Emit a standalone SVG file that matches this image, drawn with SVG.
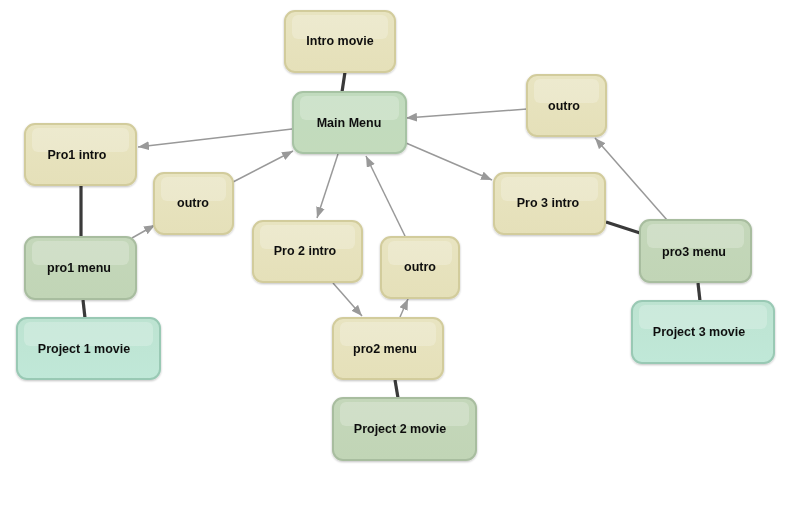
<svg xmlns="http://www.w3.org/2000/svg" width="796" height="512" viewBox="0 0 796 512">
  <defs>
    <linearGradient id="gY" x1="0" y1="0" x2="0" y2="1">
      <stop offset="0" stop-color="#e8e4c1"/>
      <stop offset="1" stop-color="#e5e0b9"/>
    </linearGradient>
    <linearGradient id="gG" x1="0" y1="0" x2="0" y2="1">
      <stop offset="0" stop-color="#c4d7ba"/>
      <stop offset="1" stop-color="#c1d5b6"/>
    </linearGradient>
    <linearGradient id="gM" x1="0" y1="0" x2="0" y2="1">
      <stop offset="0" stop-color="#c1dbbe"/>
      <stop offset="1" stop-color="#c3dbbc"/>
    </linearGradient>
    <linearGradient id="gT" x1="0" y1="0" x2="0" y2="1">
      <stop offset="0" stop-color="#bde3d1"/>
      <stop offset="1" stop-color="#c0e8d8"/>
    </linearGradient>
    <filter id="sh" x="-10%" y="-10%" width="120%" height="130%">
      <feGaussianBlur in="SourceAlpha" stdDeviation="1.2"/>
      <feOffset dx="0" dy="1" result="b"/>
      <feComponentTransfer><feFuncA type="linear" slope="0.25"/></feComponentTransfer>
      <feMerge><feMergeNode/><feMergeNode in="SourceGraphic"/></feMerge>
    </filter>
    <marker id="ah" viewBox="0 0 10 8" refX="10" refY="4" markerWidth="11" markerHeight="9" markerUnits="userSpaceOnUse" orient="auto">
      <path d="M0,0 L10,4 L0,8 Z" fill="#999999"/>
    </marker>
  </defs>
  <style>
    .y { fill: url(#gY); stroke: #d2cc9c; stroke-width: 2; }
    .g { fill: url(#gG); stroke: #a8bd9f; stroke-width: 2; }
    .m { fill: url(#gM); stroke: #a7c3a4; stroke-width: 2; }
    .t { fill: url(#gT); stroke: #99c9b4; stroke-width: 2; }
    .hl { fill: #ffffff; fill-opacity: 0.22; }
    .lbl { font-family: "Liberation Sans", Arial, sans-serif; font-weight: bold; font-size: 12.5px; fill: #111111; text-anchor: middle; }
    .arr { stroke: #999999; stroke-width: 1.5; fill: none; marker-end: url(#ah); }
    .thk { stroke: #3a3a3a; stroke-width: 3.2; fill: none; }
  </style>
  <rect width="796" height="512" fill="#ffffff"/>

  <g id="connectors">
    <line class="thk" x1="345" y1="72" x2="342" y2="92"/>
    <line class="thk" x1="81" y1="185" x2="81" y2="237"/>
    <line class="thk" x1="83" y1="300" x2="85" y2="318"/>
    <line class="thk" x1="395" y1="380" x2="398" y2="398"/>
    <line class="thk" x1="606" y1="222" x2="640" y2="233"/>
    <line class="thk" x1="698" y1="283" x2="700" y2="301"/>
    <line class="arr" x1="292" y1="129" x2="138" y2="147"/>
    <line class="arr" x1="132" y1="238" x2="155" y2="225"/>
    <line class="arr" x1="233" y1="182" x2="293" y2="151"/>
    <line class="arr" x1="338" y1="154" x2="317" y2="218"/>
    <line class="arr" x1="405" y1="236" x2="366" y2="156"/>
    <line class="arr" x1="406" y1="143" x2="492" y2="180"/>
    <line class="arr" x1="527" y1="109" x2="406" y2="118"/>
    <line class="arr" x1="333" y1="283" x2="362" y2="316"/>
    <line class="arr" x1="400" y1="317" x2="408" y2="299"/>
    <line class="arr" x1="667" y1="220" x2="595" y2="138"/>
  </g>

  <g id="intro-movie" filter="url(#sh)">
    <rect class="y" x="285" y="11" width="110" height="61" rx="10"/>
    <rect class="hl" x="292" y="15" width="96" height="24" rx="6"/>
    <text class="lbl" x="340" y="45">Intro movie</text>
  </g>
  <g id="main-menu" filter="url(#sh)">
    <rect class="m" x="293" y="92" width="113" height="61" rx="10"/>
    <rect class="hl" x="300" y="96" width="99" height="24" rx="6"/>
    <text class="lbl" x="349" y="127">Main Menu</text>
  </g>
  <g id="pro1-intro" filter="url(#sh)">
    <rect class="y" x="25" y="124" width="111" height="61" rx="10"/>
    <rect class="hl" x="32" y="128" width="97" height="24" rx="6"/>
    <text class="lbl" x="77" y="159">Pro1 intro</text>
  </g>
  <g id="outro-1" filter="url(#sh)">
    <rect class="y" x="154" y="173" width="79" height="61" rx="10"/>
    <rect class="hl" x="161" y="177" width="65" height="24" rx="6"/>
    <text class="lbl" x="193" y="207">outro</text>
  </g>
  <g id="pro1-menu" filter="url(#sh)">
    <rect class="g" x="25" y="237" width="111" height="62" rx="10"/>
    <rect class="hl" x="32" y="241" width="97" height="24" rx="6"/>
    <text class="lbl" x="79" y="272">pro1 menu</text>
  </g>
  <g id="project-1-movie" filter="url(#sh)">
    <rect class="t" x="17" y="318" width="143" height="61" rx="10"/>
    <rect class="hl" x="24" y="322" width="129" height="24" rx="6"/>
    <text class="lbl" x="84" y="353">Project 1 movie</text>
  </g>
  <g id="pro2-intro" filter="url(#sh)">
    <rect class="y" x="253" y="221" width="109" height="61" rx="10"/>
    <rect class="hl" x="260" y="225" width="95" height="24" rx="6"/>
    <text class="lbl" x="305" y="255">Pro 2 intro</text>
  </g>
  <g id="outro-2" filter="url(#sh)">
    <rect class="y" x="381" y="237" width="78" height="61" rx="10"/>
    <rect class="hl" x="388" y="241" width="64" height="24" rx="6"/>
    <text class="lbl" x="420" y="271">outro</text>
  </g>
  <g id="pro2-menu" filter="url(#sh)">
    <rect class="y" x="333" y="318" width="110" height="61" rx="10"/>
    <rect class="hl" x="340" y="322" width="96" height="24" rx="6"/>
    <text class="lbl" x="385" y="353">pro2 menu</text>
  </g>
  <g id="project-2-movie" filter="url(#sh)">
    <rect class="g" x="333" y="398" width="143" height="62" rx="10"/>
    <rect class="hl" x="340" y="402" width="129" height="24" rx="6"/>
    <text class="lbl" x="400" y="433">Project 2 movie</text>
  </g>
  <g id="outro-3" filter="url(#sh)">
    <rect class="y" x="527" y="75" width="79" height="61" rx="10"/>
    <rect class="hl" x="534" y="79" width="65" height="24" rx="6"/>
    <text class="lbl" x="564" y="110">outro</text>
  </g>
  <g id="pro3-intro" filter="url(#sh)">
    <rect class="y" x="494" y="173" width="111" height="61" rx="10"/>
    <rect class="hl" x="501" y="177" width="97" height="24" rx="6"/>
    <text class="lbl" x="548" y="207">Pro 3 intro</text>
  </g>
  <g id="pro3-menu" filter="url(#sh)">
    <rect class="g" x="640" y="220" width="111" height="62" rx="10"/>
    <rect class="hl" x="647" y="224" width="97" height="24" rx="6"/>
    <text class="lbl" x="694" y="256">pro3 menu</text>
  </g>
  <g id="project-3-movie" filter="url(#sh)">
    <rect class="t" x="632" y="301" width="142" height="62" rx="10"/>
    <rect class="hl" x="639" y="305" width="128" height="24" rx="6"/>
    <text class="lbl" x="699" y="336">Project 3 movie</text>
  </g>
</svg>
